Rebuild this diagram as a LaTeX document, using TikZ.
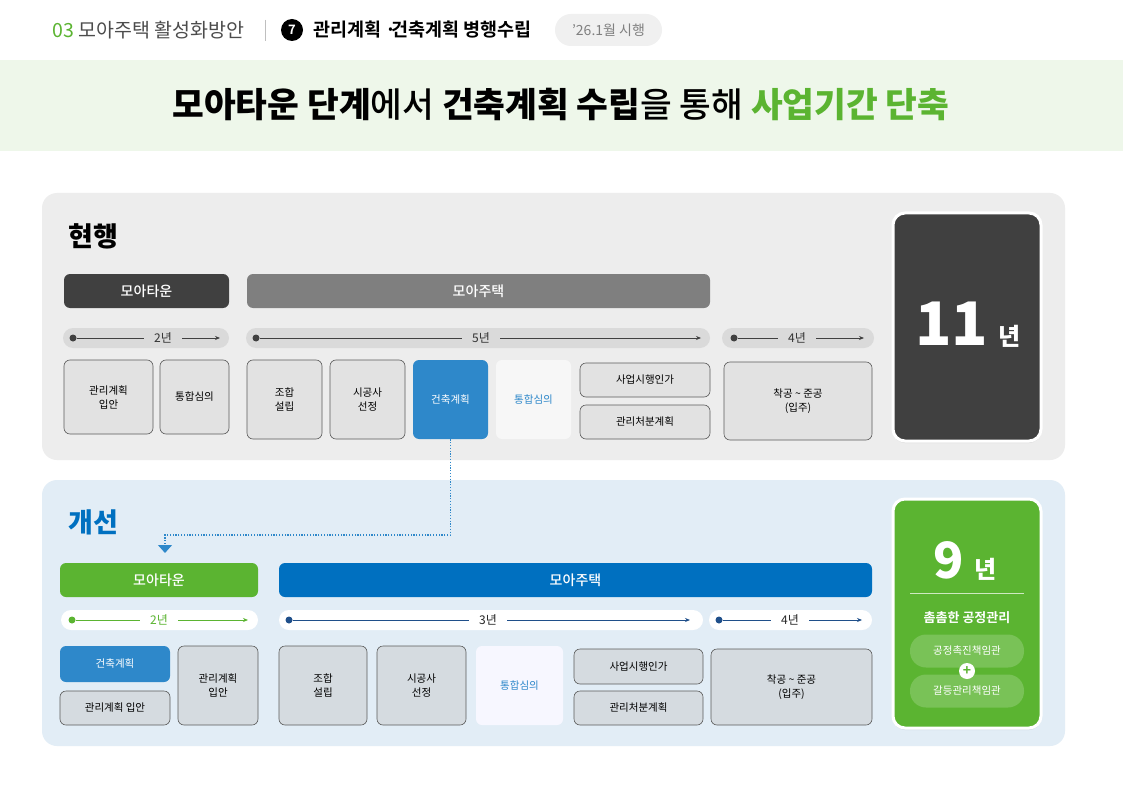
\documentclass[tikz,border=0pt]{standalone}
\usepackage{fontspec}
\setmainfont{Noto Sans CJK KR}[BoldFont={Noto Sans CJK KR Bold}]
\newfontfamily\krheavy{Noto Sans CJK KR Black}
\newfontfamily\krmedium{Noto Sans CJK KR Medium}
\usepackage{tikz}
\usetikzlibrary{arrows.meta}
\usetikzlibrary{calc,shadows}
\definecolor{mogreen}{HTML}{5BB431}
\definecolor{moblue}{HTML}{0070C0}
\definecolor{boxblue}{HTML}{2E88CA}
\definecolor{navy}{HTML}{1F4F8A}
\definecolor{darkgray}{HTML}{404040}
\definecolor{midgray}{HTML}{7F7F7F}
\definecolor{panelgray}{HTML}{EDEDED}
\definecolor{pillgray}{HTML}{DADADA}
\definecolor{boxgray}{HTML}{E2E2E2}
\definecolor{boxline}{HTML}{5A5A5A}
\definecolor{panelblue}{HTML}{E2EDF6}
\definecolor{boxgrayb}{HTML}{D5DBE0}
\definecolor{bandgreen}{HTML}{EEF7EA}
\definecolor{pillgreen}{HTML}{79C257}
\newcommand\fsz[2]{\fontsize{#1}{#2}\selectfont}

\begin{document}
\begin{tikzpicture}[x=1pt,y=-1pt,
	phasebar/.style={rounded corners=6, minimum height=34, text=white, font=\krmedium\fsz{14}{16}},
	stagebox/.style={draw=boxline, fill=boxgray, rounded corners=6, align=center, font=\fsz{10.5}{14}, inner sep=2, line width=0.6},
	yearpill/.style={rounded corners=10, minimum height=20},
	yearlabel/.style={inner xsep=10, inner ysep=0, font=\fsz{12}{14}},
	tldot/.style={circle, inner sep=0, minimum size=7},
	tlline/.style={line width=0.8},
	totalbox/.style={draw=white, line width=3, rounded corners=12, minimum width=148, minimum height=228, drop shadow={shadow xshift=0pt, shadow yshift=-2pt, opacity=.18}},
	teampill/.style={fill=pillgreen, rounded corners=16, minimum width=114, minimum height=33, text=white, font=\fsz{10.5}{12}},
	linkline/.style={draw=boxblue, line width=1.2, dash pattern=on 1.2pt off 1.6pt}
	]
	\useasboundingbox[fill=white] (0,0) rectangle (1123,794);
	
	\node[anchor=west, inner sep=0, font=\fsz{19.5}{22}, text=black!70] (sect) at (52,30) {\textcolor{mogreen}{03} 모아주택 활성화방안};
	\draw[black!25, line width=0.8] (265,20) -- (265,41);
	\node[circle, fill=black, text=white, minimum size=22, inner sep=0, font=\bfseries\fsz{13}{13}] (num) at (292,30) {7};
	\node[anchor=west, inner sep=0, font=\bfseries\fsz{18.5}{20}] (topic) at (313,30) {관리계획 ·\kern-5pt 건축계획 병행수립};
	\node[fill=black!6, rounded corners=16, minimum width=107, minimum height=32, text=black!50, font=\fsz{14}{16}] (date) at (608.5,30) {’26.1월 시행};
	
	\fill[bandgreen] (0,60) rectangle (1123,151);
	\node[font=\krmedium\fsz{34.5}{38}] (title) at (561,104) {{\krheavy 모아타운 단계}에서 {\krheavy 건축계획 수립}을 통해 {\krheavy\color{mogreen}사업기간 단축}};
	
	\fill[panelgray, rounded corners=15] (42,193) rectangle (1065,460);
	\node[anchor=west, inner sep=0, font=\krheavy\fsz{27}{30}] (cur) at (68,236) {현행};
	
	\node[phasebar, fill=darkgray, minimum width=165] (curtown) at (146.5,291) {모아타운};
	\node[phasebar, fill=midgray, minimum width=463] (curhouse) at (478.5,291) {모아주택};
	
	\node[yearpill, fill=pillgray, minimum width=166] (cpa) at (146,338) {};
	\node[yearpill, fill=pillgray, minimum width=464] (cpb) at (478,338) {};
	\node[yearpill, fill=pillgray, minimum width=152] (cpc) at (798,338) {};
	\node[tldot, fill=darkgray] (cda) at (73,338) {};
	\node[tldot, fill=darkgray] (cdb) at (256,338) {};
	\node[tldot, fill=darkgray] (cdc) at (734,338) {};
	\node[yearlabel, text=black!80] (cya) at (163,338) {2년};
	\node[yearlabel, text=black!80] (cyb) at (481,338) {5년};
	\node[yearlabel, text=black!80] (cyc) at (797,338) {4년};
	\coordinate (cea) at (220,338);
	\coordinate (ceb) at (701,338);
	\coordinate (cec) at (864,338);
	\draw[tlline, darkgray] (cda) -- (cya);
	\draw[tlline, darkgray, -{Stealth[length=5pt,width=4pt]}] (cya) -- (cea);
	\draw[tlline, darkgray] (cdb) -- (cyb);
	\draw[tlline, darkgray, -{Stealth[length=5pt,width=4pt]}] (cyb) -- (ceb);
	\draw[tlline, darkgray] (cdc) -- (cyc);
	\draw[tlline, darkgray, -{Stealth[length=5pt,width=4pt]}] (cyc) -- (cec);
	
	\node[stagebox, minimum width=89, minimum height=74] (cur1) at (108.5,397) {관리계획\\입안};
	\node[stagebox, minimum width=69, minimum height=74] (cur2) at (194.5,397) {통합심의};
	\node[stagebox, minimum width=75, minimum height=79] (cur3) at (284.5,399.5) {조합\\설립};
	\node[stagebox, minimum width=75, minimum height=79] (cur4) at (367.5,399.5) {시공사\\선정};
	\node[stagebox, draw=none, fill=boxblue, text=white, minimum width=75, minimum height=79] (cur5) at (450.5,399.5) {건축계획};
	\node[stagebox, draw=none, fill=white!97!black, text=boxblue, minimum width=75, minimum height=79] (cur6) at (533.5,399.5) {통합심의};
	\node[stagebox, minimum width=130, minimum height=34] (cur7) at (645,380) {사업시행인가};
	\node[stagebox, minimum width=130, minimum height=34] (cur8) at (645,422) {관리처분계획};
	\node[stagebox, minimum width=148, minimum height=78] (cur9) at (798,401) {착공 \textasciitilde{} 준공\\(입주)};
	
	\node[totalbox, fill=darkgray] (curtotal) at (967,327) {};
	\node[anchor=base, text=white, inner sep=0] (curyears) at (968,345) {{\krheavy\fsz{60}{60}11}\hspace{10pt}{\krheavy\fsz{24}{24}년}};
	
	\fill[panelblue, rounded corners=15] (42,480) rectangle (1065,746);
	\node[anchor=west, inner sep=0, font=\krheavy\fsz{27}{30}, text=moblue] (new) at (68,522) {개선};
	
	\node[phasebar, fill=mogreen, minimum width=198] (newtown) at (159,580) {모아타운};
	\node[phasebar, fill=moblue, minimum width=593] (newhouse) at (575.5,580) {모아주택};
	
	\node[yearpill, fill=white, minimum width=197] (npa) at (159.5,620) {};
	\node[yearpill, fill=white, minimum width=424] (npb) at (491,620) {};
	\node[yearpill, fill=white, minimum width=163] (npc) at (790.5,620) {};
	\node[tldot, fill=mogreen] (nda) at (72,620) {};
	\node[tldot, fill=navy] (ndb) at (289,620) {};
	\node[tldot, fill=navy] (ndc) at (719,620) {};
	\node[yearlabel, text=mogreen] (nya) at (159,620) {2년};
	\node[yearlabel, text=black!85] (nyb) at (488,620) {3년};
	\node[yearlabel, text=black!85] (nyc) at (790,620) {4년};
	\coordinate (nea) at (248,620);
	\coordinate (neb) at (690,620);
	\coordinate (nec) at (862,620);
	\draw[tlline, mogreen] (nda) -- (nya);
	\draw[tlline, mogreen, -{Stealth[length=5pt,width=4pt]}] (nya) -- (nea);
	\draw[tlline, navy] (ndb) -- (nyb);
	\draw[tlline, navy, -{Stealth[length=5pt,width=4pt]}] (nyb) -- (neb);
	\draw[tlline, navy] (ndc) -- (nyc);
	\draw[tlline, navy, -{Stealth[length=5pt,width=4pt]}] (nyc) -- (nec);
	
	\node[stagebox, draw=none, fill=boxblue, text=white, minimum width=110, minimum height=36] (new1) at (115,664) {건축계획};
	\node[stagebox, fill=boxgrayb, minimum width=110, minimum height=34] (new2) at (115,708) {관리계획 입안};
	\node[stagebox, fill=boxgrayb, minimum width=80, minimum height=79] (new3) at (218,685.5) {관리계획\\입안};
	\node[stagebox, fill=boxgrayb, minimum width=88, minimum height=79] (new4) at (323,685.5) {조합\\설립};
	\node[stagebox, fill=boxgrayb, minimum width=89, minimum height=79] (new5) at (421.5,685.5) {시공사\\선정};
	\node[stagebox, draw=none, fill=white!97!blue, text=boxblue, minimum width=87, minimum height=79] (new6) at (519.5,685.5) {통합심의};
	\node[stagebox, fill=boxgrayb, minimum width=129, minimum height=35] (new7) at (638.5,666.5) {사업시행인가};
	\node[stagebox, fill=boxgrayb, minimum width=129, minimum height=34] (new8) at (638.5,708) {관리처분계획};
	\node[stagebox, fill=boxgrayb, minimum width=161, minimum height=76] (new9) at (791.5,687) {착공 \textasciitilde{} 준공\\(입주)};
	
	\node[totalbox, fill=mogreen, minimum height=229] (newtotal) at (967,613.5) {};
	\node[anchor=base, text=white, inner sep=0] (newyears) at (965,578) {{\krheavy\fsz{50}{50}9}\hspace{10pt}{\krheavy\fsz{24}{24}년}};
	\draw[white!70!mogreen, line width=0.8] (910,593) -- (1024,593);
	\node[text=white, font=\bfseries\fsz{13}{15}] (mgmt) at (967,618) {촘촘한 공정관리};
	\node[teampill] (team1) at (967,651) {공정촉진책임관};
	\node[teampill] (team2) at (967,691) {갈등관리책임관};
	\node[circle, fill=white, text=mogreen, minimum size=16, inner sep=0, font=\bfseries\fsz{14}{14}] (plus) at (967,671) {+};
	
	\coordinate (turn) at (165,535);
	\coordinate (tip) at (165,553);
	\draw[linkline, -{Triangle[width=14pt,length=8pt,fill=boxblue]}] (cur5.south) |- (turn) -- (tip);
\end{tikzpicture}
\end{document}
